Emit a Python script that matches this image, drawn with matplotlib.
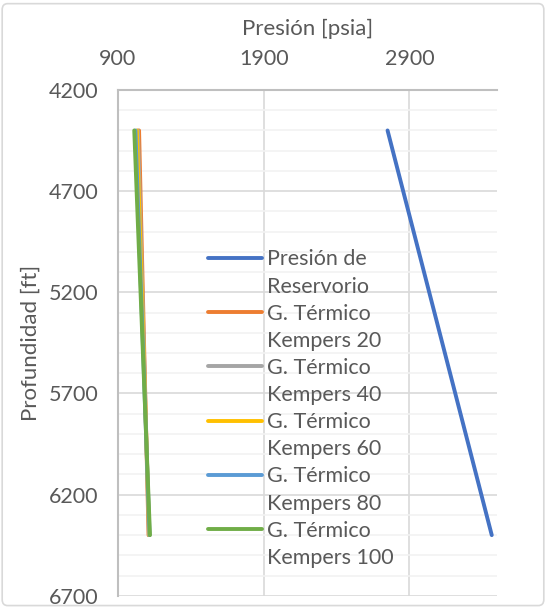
import numpy as np
import matplotlib.pyplot as plt
from matplotlib.patches import FancyBboxPatch
from matplotlib.legend_handler import HandlerLine2D

plt.rcParams['font.family'] = ['Lato', 'DejaVu Sans']

# data
profundidad = [4400, 6400]
presion_reservorio = [2750, 3465]
kempers_20 = [1045, 1110]
kempers_40 = [1037, 1113]
kempers_60 = [1030, 1115]
kempers_80 = [1020, 1117]
kempers_100 = [1012, 1120]

series = [
    ("Presión de\nReservorio", presion_reservorio, "#4472C4"),
    ("G. Térmico\nKempers 20", kempers_20, "#ED7D31"),
    ("G. Térmico\nKempers 40", kempers_40, "#A5A5A5"),
    ("G. Térmico\nKempers 60", kempers_60, "#FFC000"),
    ("G. Térmico\nKempers 80", kempers_80, "#5B9BD5"),
    ("G. Térmico\nKempers 100", kempers_100, "#70AD47"),
]


class FirstLineHandler(HandlerLine2D):
    # put the legend line beside the first line of a two-line label
    def create_artists(self, legend, orig_handle, xdescent, ydescent, width, height, fontsize, trans):
        arts = super().create_artists(legend, orig_handle, xdescent, ydescent, width, height, fontsize, trans)
        for a in arts:
            a.set_ydata(np.asarray(a.get_ydata()) + 0.72 * fontsize)
        return arts


txt = "#595959"
fig = plt.figure(figsize=(5.46, 6.08), dpi=100)
ax = fig.add_axes([0.216, 0.02, 0.694, 0.832])

lines = []
for label, vals, color in series:
    ln, = ax.plot(vals, profundidad, color=color, lw=2.8, label=label, solid_capstyle="round")
    lines.append(ln)

ax.set_xlim(900, 3500)
ax.set_ylim(6700, 4200)
ax.set_xticks([900, 1900, 2900])
ax.set_yticks(np.arange(4200, 6701, 500))
ax.set_yticks(np.arange(4200, 6701, 100), minor=True)
ax.xaxis.tick_top()
ax.xaxis.set_label_position("top")
ax.tick_params(axis="both", length=0, labelsize=15.5, colors=txt)
ax.tick_params(axis="x", pad=15)
ax.tick_params(axis="y", pad=14)
ax.tick_params(axis="y", which="minor", length=0)
ax.grid(True, which="major", color="#D9D9D9", lw=1.2)
ax.grid(True, which="minor", axis="y", color="#F2F2F2", lw=1.2)
ax.set_axisbelow(True)
for s in ["right", "bottom"]:
    ax.spines[s].set_visible(False)
for s in ["top", "left"]:
    ax.spines[s].set_color("#BFBFBF")
    ax.spines[s].set_linewidth(1.5)

ax.set_xlabel("Presión [psia]", fontsize=16, color=txt, labelpad=10)
ax.set_ylabel("Profundidad [ft]", fontsize=16, color=txt, labelpad=6)

leg = ax.legend(loc="upper left", bbox_to_anchor=(0.215, 0.702), frameon=False,
                fontsize=15.5, handlelength=2.5, handletextpad=0.25,
                labelspacing=0.32, borderaxespad=0,
                handler_map={ln: FirstLineHandler() for ln in lines})
for t in leg.get_texts():
    t.set_color(txt)
    t.set_linespacing(1.46)

fig.patches.append(FancyBboxPatch((0.004, 0.004), 0.992, 0.99, boxstyle="round,pad=0,rounding_size=0.01",
                                  transform=fig.transFigure, fill=False, ec="#D9D9D9", lw=1.2))

plt.savefig("out.png")
